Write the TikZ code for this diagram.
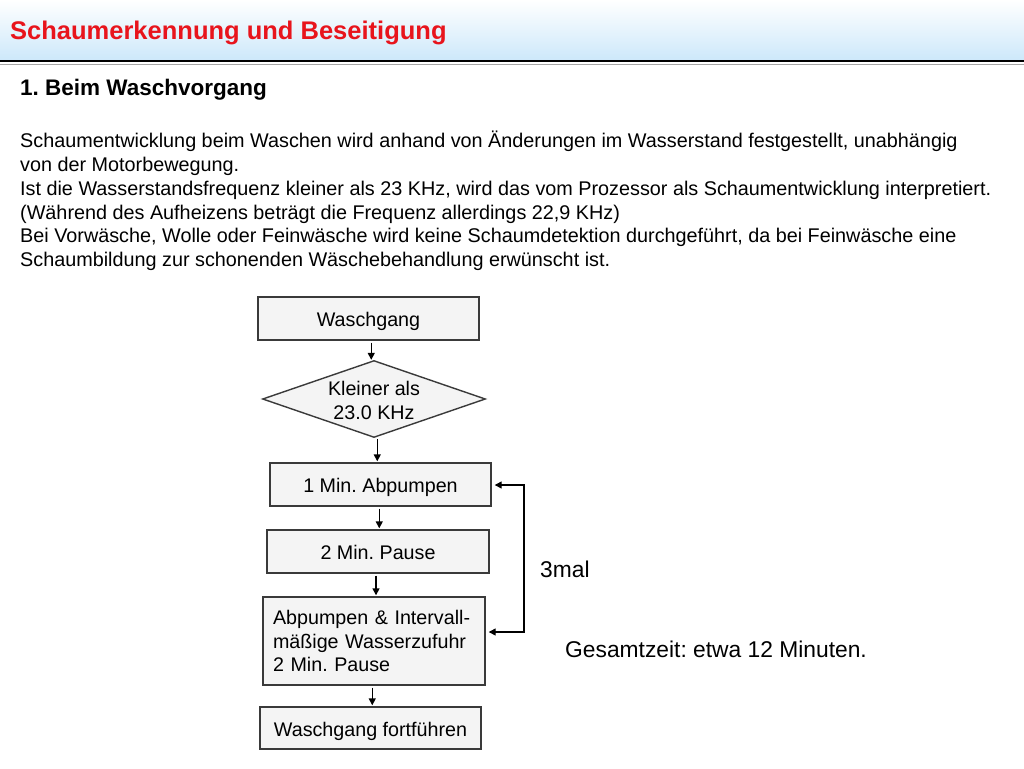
\documentclass[tikz,border=0pt]{standalone}
\usepackage{fontspec}
\setmainfont{Liberation Sans}
\frenchspacing
\usetikzlibrary{arrows.meta,calc}
\definecolor{hdrblue}{HTML}{CDE8FA}
\definecolor{titlered}{HTML}{E8141C}
\definecolor{boxfill}{HTML}{F4F4F4}
\definecolor{boxline}{HTML}{3A3A3A}
\tikzset{
  bodyline/.style={anchor=base west,inner sep=0pt,font=\fontsize{19.8}{24}\selectfont},
  fbox/.style={draw=boxline,line width=1.4pt,fill=boxfill,inner sep=0pt,
    minimum width=221pt,minimum height=43pt,font=\fontsize{19.7}{23.5}\selectfont,
    text height=20pt,text depth=4pt},
  ftext/.style={inner sep=0pt,minimum width=222pt,minimum height=76pt,
    font=\fontsize{19.7}{24}\selectfont,align=center},
  fline/.style={draw=boxline,line width=1.4pt,fill=boxfill},
  arr/.style={line width=1.4pt,-{Triangle[length=7pt,width=7pt]},shorten <=2pt,shorten >=1pt},
  looparr/.style={line width=1.4pt,{Triangle[length=7pt,width=7pt]}-{Triangle[length=7pt,width=7pt]}},
  lbl/.style={anchor=base west,inner sep=0pt,font=\fontsize{22.8}{26}\selectfont}
}
\begin{document}
\begin{tikzpicture}[x=1pt,y=-1pt]
\useasboundingbox (0,0) rectangle (1024,768);
\fill[white] (0,0) rectangle (1024,768);
% header
\shade[top color=white,bottom color=hdrblue] (0,0) rectangle (1024,60);
\draw[black,line width=2pt] (0,60.5) -- (1024,60.5);
\draw[gray!70,line width=1.5pt] (0,64.5) -- (1024,64.5);
\node[anchor=base west,inner sep=0pt,font=\fontsize{25.5}{28}\selectfont\bfseries,text=titlered] (title) at (10,39.5) {Schaumerkennung und Beseitigung};
% heading and body
\node[anchor=base west,inner sep=0pt,font=\fontsize{22.5}{24}\selectfont\bfseries] (head) at (20,95) {1. Beim Waschvorgang};
\node[bodyline] (l1) at (20,147) {Schaumentwicklung beim Waschen wird anhand von Änderungen im Wasserstand festgestellt, unabhängig};
\node[bodyline] (l2) at (20,171) {von der Motorbewegung.};
\node[bodyline] (l3) at (20,195) {Ist die Wasserstandsfrequenz kleiner als 23 KHz, wird das vom Prozessor als Schaumentwicklung interpretiert.};
\node[bodyline] (l4) at (20,219) {(Während des Aufheizens beträgt die Frequenz allerdings 22,9 KHz)};
\node[bodyline] (l5) at (20,242) {Bei Vorwäsche, Wolle oder Feinwäsche wird keine Schaumdetektion durchgeführt, da bei Feinwäsche eine};
\node[bodyline] (l6) at (20,266) {Schaumbildung zur schonenden Wäschebehandlung erwünscht ist.};
% flowchart
\node[fbox] (b1) at (368.5,318.5) {Waschgang};
\node[ftext] (d1) at (374,399) {};
\draw[fline] (d1.north) -- (d1.east) -- (d1.south) -- (d1.west) -- cycle;
\node[ftext] (d1t) at ([yshift=-1pt]d1.center) {Kleiner als\\23.0 KHz};
\node[fbox] (b2) at (380.5,484.5) {1 Min. Abpumpen};
\node[fbox,minimum width=222pt] (b3) at (378,551.5) {2 Min. Pause};
\node[fbox,minimum width=222pt,minimum height=88pt,align=left,text width=202pt,inner xsep=10pt,text height=,text depth=] (b4) at (374,641) {Abpumpen \& Intervall-\\mäßige Wasserzufuhr\\2 Min. Pause};
\node[fbox,minimum height=42pt] (b5) at (370.5,728) {Waschgang fortführen};
% connectors
\coordinate (m1) at ($(b1.south)!.5!(d1.north)$);
\coordinate (m2) at ($(d1.south)!.5!(b2.north)$);
\coordinate (m3) at ($(b2.south)!.5!(b3.north)$);
\coordinate (m4) at ($(b3.south)!.5!(b4.north)$);
\coordinate (m5) at ($(b4.south)!.5!(b5.north)$);
\draw[arr] (m1 |- b1.south) -- (m1 |- d1.north);
\draw[arr] (m2 |- d1.south) -- (m2 |- b2.north);
\draw[arr] (m3 |- b2.south) -- (m3 |- b3.north);
\draw[arr] (m4 |- b3.south) -- (m4 |- b4.north);
\draw[arr] (m5 |- b4.south) -- (m5 |- b5.north);
\coordinate (lt) at (524,485);
\coordinate (lb) at (524,632);
\draw[looparr] ([xshift=3pt]b2.east |- lt) -- (lt) -- (lb) -- ([xshift=3pt]b4.east |- lb);
\node[lbl] (mal) at (540,577) {3mal};
\node[lbl] (ges) at (565,657) {Gesamtzeit: etwa 12 Minuten.};
\end{tikzpicture}
\end{document}
